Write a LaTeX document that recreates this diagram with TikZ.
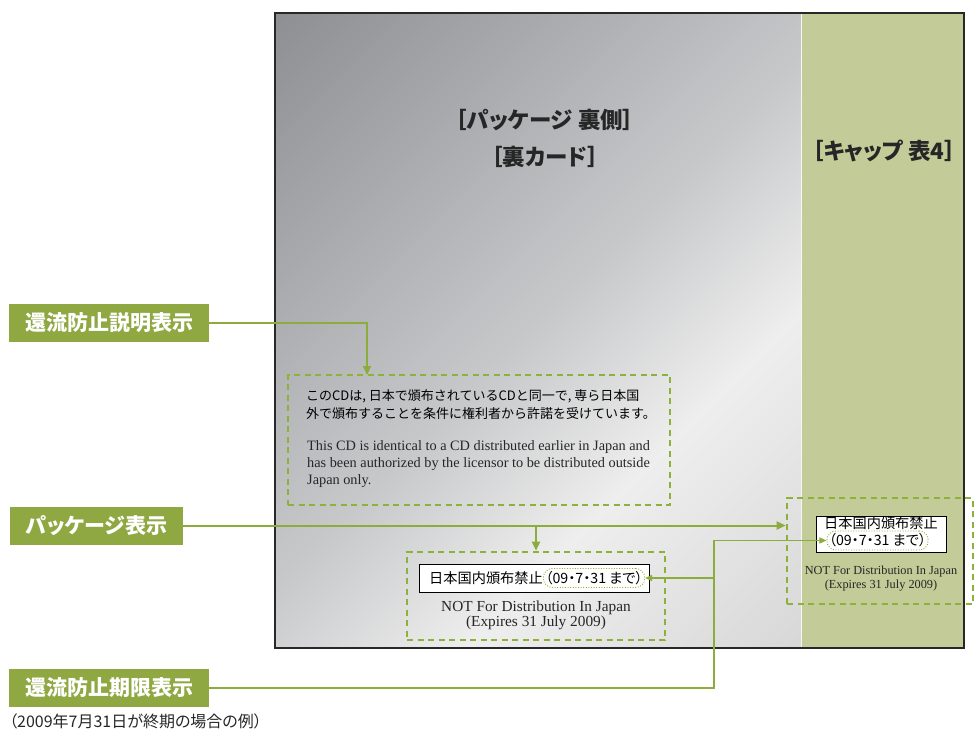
\documentclass[tikz,border=0pt]{standalone}
\usepackage{fontspec}
\setmainfont{Liberation Serif}
\newfontfamily\jpfont{Noto Sans CJK JP}
\newfontfamily\jpprop[RawFeature=+palt]{Noto Sans CJK JP}
\usetikzlibrary{arrows.meta,positioning}

\definecolor{tagGreen}{RGB}{143,168,66}
\definecolor{lineGreen}{RGB}{140,172,60}
\definecolor{dashGreen}{RGB}{141,178,58}
\definecolor{capGreen}{RGB}{195,203,152}
\definecolor{grayDark}{RGB}{142,144,148}
\definecolor{grayMidB}{RGB}{166,168,171}
\definecolor{grayMidA}{RGB}{200,201,203}
\definecolor{grayLight}{RGB}{238,238,238}
\definecolor{grayEnd}{RGB}{216,216,217}
\definecolor{frameGray}{RGB}{40,40,40}

% back card gradient: dark top left, light band, grey again bottom right
\pgfdeclareverticalshading{backcard}{100bp}{color(0bp)=(grayEnd); color(15bp)=(grayEnd);
  color(35bp)=(grayLight); color(50bp)=(grayMidA); color(70bp)=(grayMidB);
  color(85bp)=(grayDark); color(100bp)=(grayDark)}

\tikzset{
  tag/.style={fill=tagGreen, text=white, anchor=west, inner xsep=16pt,
    inner ysep=0pt, minimum height=38pt,
    font=\jpprop\bfseries\fontsize{21}{21}\selectfont},
  title/.style={text=black!85, font=\jpprop\bfseries\fontsize{22.5}{22.5}\selectfont},
  dashbox/.style={draw=dashGreen, line width=2.6pt, dash pattern=on 6pt off 4.5pt,
    inner sep=0pt},
  whitebox/.style={draw=black, fill=white, line width=0.9pt, inner sep=0pt},
  dateoval/.style={draw=dashGreen, line width=0.9pt, dash pattern=on 1pt off 1.6pt,
    rounded corners=9pt, minimum height=19pt, inner xsep=2pt, inner ysep=0pt},
  jptext/.style={inner sep=0pt, font=\jpfont\fontsize{13}{18}\selectfont},
  entext/.style={inner sep=0pt, text=black!85},
  conn/.style={draw=lineGreen, line width=2pt, -{Triangle[length=9pt,width=8pt]}},
  thinconn/.style={draw=lineGreen, line width=1.3pt, -{Triangle[length=7pt,width=6pt]}}
}

\begin{document}
\begin{tikzpicture}[x=1pt,y=-1pt]
  \useasboundingbox (0,0) rectangle (976,728);

  % package back and cap card
  \shade[shading=backcard, shading angle=45] (276,14) rectangle (801,647);
  \fill[capGreen] (801,14) rectangle (963,647);
  \draw[white!85!capGreen, line width=1.5pt] (801.5,14) -- (801.5,647);
  \draw[frameGray, line width=1.8pt] (275,13) rectangle (964,648);

  \node[title] (backTitle) at (545,120) {［パッケージ 裏側］};
  \node[title] (cardTitle) at (545,157) {［裏カード］};
  \node[title] (capTitle) at (884,151) {［キャップ 表4］};

  % explanation on the back card
  \node[dashbox, minimum width=382pt, minimum height=130pt] (explBox) at (479,440) {};
  \node[jptext, anchor=base west] (jpNoteA) at (306,400) {このCDは, 日本で頒布されているCDと同一で, 専ら日本国};
  \node[jptext, anchor=base west] (jpNoteB) at (306,418) {外で頒布することを条件に権利者から許諾を受けています。};
  \node[entext, anchor=base west, font=\fontsize{14.3}{17}\selectfont] (enNoteA) at (307,450)
    {This CD is identical to a CD distributed earlier in Japan and};
  \node[entext, anchor=base west, font=\fontsize{14.3}{17}\selectfont] (enNoteB) at (307,467)
    {has been authorized by the licensor to be distributed outside};
  \node[entext, anchor=base west, font=\fontsize{14.3}{17}\selectfont] (enNoteC) at (307,484)
    {Japan only.};

  % package notice, back card
  \node[dashbox, minimum width=258pt, minimum height=88pt] (pkgBox) at (536,596) {};
  \node[whitebox, minimum width=230pt, minimum height=28pt] (pkgLabel) at (534,578) {};
  \node[jptext, anchor=west, font=\jpfont\fontsize{14.2}{14.2}\selectfont] (banLow) at (429,578) {日本国内頒布禁止};
  \node[dateoval, font=\jpprop\fontsize{14.2}{14.2}\selectfont, right=0pt of banLow] (dateLow) {（09・7・31 まで）};
  \node[entext, anchor=base, font=\fontsize{15.3}{15.3}\selectfont] (enLowA) at (536,611)
    {NOT For Distribution In Japan};
  \node[entext, anchor=base, font=\fontsize{15.3}{15.3}\selectfont] (enLowB) at (536,626)
    {(Expires 31 July 2009)};

  % package notice, cap
  \node[dashbox, minimum width=186pt, minimum height=106pt] (capBox) at (880,551) {};
  \node[whitebox, minimum width=130pt, minimum height=36pt] (capLabel) at (881,534) {};
  \node[jptext, font=\jpfont\fontsize{14.2}{14.2}\selectfont] (banCap) at (881,523) {日本国内頒布禁止};
  \node[dateoval, font=\jpprop\fontsize{14.2}{14.2}\selectfont] (dateCap) at (877.5,540.5) {（09・7・31 まで）};
  \node[entext, anchor=base, font=\fontsize{12.3}{12.3}\selectfont] (enCapA) at (881,574)
    {NOT For Distribution In Japan};
  \node[entext, anchor=base, font=\fontsize{12.3}{12.3}\selectfont] (enCapB) at (881,588)
    {(Expires 31 July 2009)};

  % labels on the left
  \node[tag] (tagExpl) at (9,323) {還流防止説明表示};
  \node[tag] (tagPkg) at (10,525.5) {パッケージ表示};
  \node[tag] (tagLimit) at (9,688) {還流防止期限表示};
  \node[anchor=west, inner sep=0pt, text=black!85, font=\jpprop\fontsize{16}{16}\selectfont]
    (limitNote) at (9,721) {（2009年7月31日が終期の場合の例）};

  % connectors
  \coordinate (explIn) at (367,375);
  \draw[conn] (tagExpl.east) -| (explIn);
  \draw[conn] (tagPkg.east) -- (tagPkg.east -| capBox.west);
  \draw[conn] (tagPkg.east -| pkgBox.north) -- (pkgBox.north);
  \coordinate (limitBend) at (714,540.5);
  \draw[thinconn] (tagLimit.east) -| (limitBend) -- (dateCap.west);
  \draw[thinconn] (limitBend |- dateLow.east) -- (dateLow.east);
\end{tikzpicture}
\end{document}
